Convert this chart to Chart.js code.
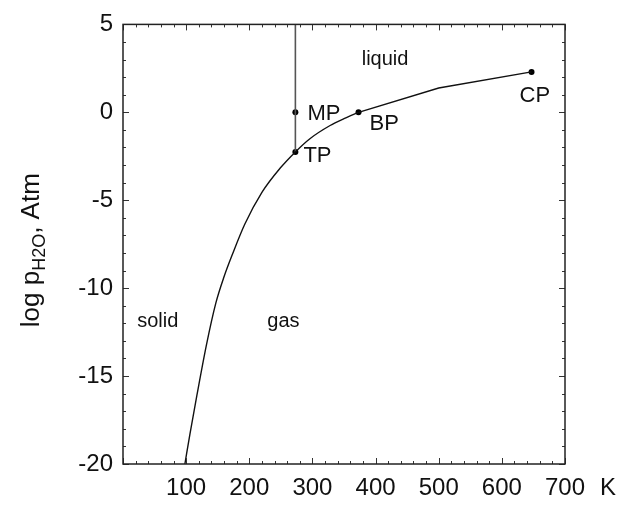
<!DOCTYPE html>
<html>
<head>
<meta charset="utf-8">
<script src="https://cdn.jsdelivr.net/npm/chart.js@4/dist/chart.umd.min.js"></script>
<style>
  html, body { margin: 0; padding: 0; background: #fff; }
  canvas { display: block; }
</style>
</head>
<body>
<canvas id="phase" width="624" height="506"></canvas>
<script>
// Water phase diagram: sublimation + vaporization curve, melting line, special points.
// Smooth part: from the low-temperature end up to the boiling point
const lowCurveT    = [98, 106, 117, 132, 147, 160, 173, 193, 220, 249, 273, 296, 328, 350, 373];
const lowCurveLogP = [-20, -18.3, -16.1, -13.25, -10.85, -9.35, -8.1, -6.35, -4.55, -3.17, -2.25, -1.5, -0.75, -0.36, 0];
// Straight segments: boiling point to critical point
const highCurveT    = [373, 500, 647];
const highCurveLogP = [0, 1.38, 2.3];

const meltT    = [273, 273];
const meltLogP = [-2.25, 5];

const pointNames = ['TP', 'MP', 'BP', 'CP'];
const pointT     = [273, 273, 373, 647];
const pointLogP  = [-2.25, 0, 0, 2.3];

const regionNames = ['liquid', 'solid', 'gas'];
const regionT     = [415, 55, 254];
const regionLogP  = [2.7, -12.2, -12.2];

const X_MIN = 0, X_MAX = 700, X_STEP = 20, X_LABEL_STEP = 100;
const Y_MIN = -20, Y_MAX = 5, Y_STEP = 1, Y_LABEL_STEP = 5;

const FONT = '"Liberation Sans", Arial, sans-serif';
const INK = '#111';

const toXY = (xs, ys) => xs.map((v, i) => ({ x: v, y: ys[i] }));

// Label offsets (px) relative to each marked point
const pointLabelOffset = {
  TP: [8, 10],
  MP: [12, 8],
  BP: [11, 18],
  CP: [-12, 30]
};

const decorations = {
  id: 'decorations',
  afterDatasetsDraw(chart) {
    const { ctx, chartArea: a, scales: { x, y } } = chart;
    ctx.save();

    // inward tick marks on all four sides
    ctx.strokeStyle = '#333';
    ctx.lineWidth = 1;
    ctx.beginPath();
    x.ticks.forEach(t => {
      const px = Math.round(x.getPixelForValue(t.value)) + 0.5;
      const len = t.value % X_LABEL_STEP === 0 ? 6 : 3;
      ctx.moveTo(px, a.bottom); ctx.lineTo(px, a.bottom - len);
      ctx.moveTo(px, a.top);    ctx.lineTo(px, a.top + len);
    });
    y.ticks.forEach(t => {
      const py = Math.round(y.getPixelForValue(t.value)) + 0.5;
      const len = t.value % Y_LABEL_STEP === 0 ? 6 : 3;
      ctx.moveTo(a.left, py);  ctx.lineTo(a.left + len, py);
      ctx.moveTo(a.right, py); ctx.lineTo(a.right - len, py);
    });
    ctx.stroke();

    // frame
    ctx.strokeStyle = '#222';
    ctx.lineWidth = 1.5;
    ctx.strokeRect(a.left, a.top, a.right - a.left, a.bottom - a.top);

    // point labels
    ctx.fillStyle = INK;
    ctx.font = '22px ' + FONT;
    ctx.textBaseline = 'alphabetic';
    ctx.textAlign = 'left';
    pointNames.forEach((name, i) => {
      const px = x.getPixelForValue(pointT[i]);
      const py = y.getPixelForValue(pointLogP[i]);
      const [dx, dy] = pointLabelOffset[name];
      ctx.fillText(name, px + dx, py + dy);
    });

    // region labels
    ctx.font = '20px ' + FONT;
    ctx.textAlign = 'center';
    regionNames.forEach((name, i) => {
      ctx.fillText(name, x.getPixelForValue(regionT[i]), y.getPixelForValue(regionLogP[i]));
    });

    // unit after the last x tick label
    ctx.font = '24px ' + FONT;
    ctx.textAlign = 'left';
    ctx.textBaseline = 'middle';
    ctx.fillText('K', x.getPixelForValue(X_MAX) + 35, a.bottom + 24);

    // y-axis title with subscript
    const mainFont = '26px ' + FONT, subFont = '18px ' + FONT;
    const parts = [['log p', mainFont, 0], ['H2O', subFont, 6], [', Atm', mainFont, 0]];
    let total = 0;
    parts.forEach(p => { ctx.font = p[1]; total += ctx.measureText(p[0]).width; });
    ctx.translate(30, (a.top + a.bottom) / 2 + 6);
    ctx.rotate(-Math.PI / 2);
    ctx.textAlign = 'left';
    ctx.textBaseline = 'alphabetic';
    let cx = -total / 2;
    parts.forEach(p => {
      ctx.font = p[1];
      ctx.fillText(p[0], cx, 9 + p[2]);
      cx += ctx.measureText(p[0]).width;
    });

    ctx.restore();
  }
};

new Chart(document.getElementById('phase'), {
  type: 'scatter',
  data: {
    datasets: [
      {
        data: toXY(lowCurveT, lowCurveLogP),
        showLine: true,
        borderColor: INK,
        borderWidth: 1.4,
        pointRadius: 0,
        cubicInterpolationMode: 'monotone'
      },
      {
        data: toXY(highCurveT, highCurveLogP),
        showLine: true,
        borderColor: INK,
        borderWidth: 1.4,
        pointRadius: 0,
        tension: 0
      },
      {
        data: toXY(meltT, meltLogP),
        showLine: true,
        borderColor: '#555',
        borderWidth: 1.6,
        pointRadius: 0
      },
      {
        data: toXY(pointT, pointLogP),
        showLine: false,
        pointRadius: 3,
        pointBackgroundColor: '#000',
        pointBorderWidth: 0
      }
    ]
  },
  options: {
    responsive: false,
    animation: false,
    devicePixelRatio: 1,
    layout: { padding: { top: 23, right: 59, bottom: 0, left: 0 } },
    plugins: { legend: { display: false }, tooltip: { enabled: false } },
    scales: {
      x: {
        type: 'linear',
        min: X_MIN, max: X_MAX,
        grid: { display: false, drawTicks: false },
        border: { display: false },
        ticks: {
          stepSize: X_STEP,
          autoSkip: false,
          maxRotation: 0,
          padding: 10,
          color: INK,
          font: { family: FONT, size: 24 },
          callback: v => (v % X_LABEL_STEP === 0 && v > 0) ? String(v) : ''
        },
        afterFit: s => { s.height = 42; }
      },
      y: {
        type: 'linear',
        min: Y_MIN, max: Y_MAX,
        grid: { display: false, drawTicks: false },
        border: { display: false },
        ticks: {
          stepSize: Y_STEP,
          autoSkip: false,
          padding: 10,
          color: INK,
          font: { family: FONT, size: 24 },
          callback: v => (v % Y_LABEL_STEP === 0) ? String(v) : ''
        },
        afterFit: s => { s.width = 123; }
      }
    }
  },
  plugins: [decorations]
});
</script>
</body>
</html>
